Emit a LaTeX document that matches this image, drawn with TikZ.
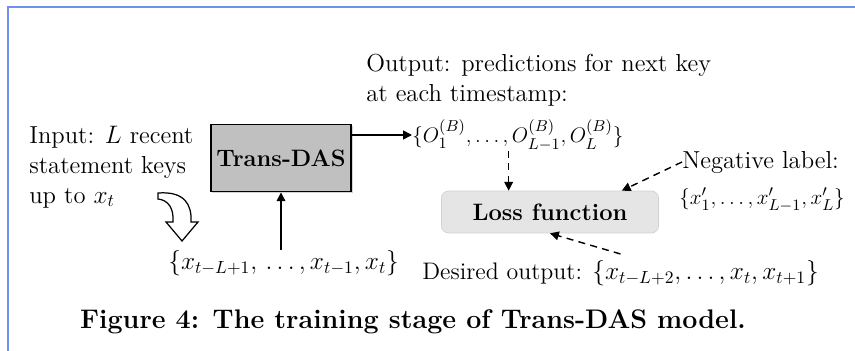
\documentclass[tikz,border=0pt]{standalone}
\usepackage{amsmath}
\usetikzlibrary{arrows.meta,positioning,calc,shadows}
\definecolor{FrameBlue}{RGB}{112,146,234}
\definecolor{BoxGray}{RGB}{192,192,192}
\definecolor{LossGray}{RGB}{229,229,229}
\definecolor{LossEdge}{RGB}{210,210,210}

\begin{document}
\begin{tikzpicture}[x=0.02cm, y=-0.02cm,
  model/.style={draw, line width=1.1pt, fill=BoxGray, minimum width=2.72cm,
                minimum height=1.34cm, font=\fontsize{13.5}{16}\selectfont\bfseries,
                drop shadow={shadow xshift=1pt, shadow yshift=-1pt, opacity=0.35}},
  lossbox/.style={draw=LossEdge, fill=LossGray, rounded corners=4pt,
                  minimum width=4.34cm, minimum height=0.84cm,
                  font=\fontsize{13.5}{16}\selectfont\bfseries},
  txt/.style={font=\fontsize{14}{17}\selectfont, align=left, inner sep=0pt},
  settxt/.style={font=\fontsize{13}{17}\selectfont, inner sep=0pt},
  msg/.style={-{Triangle[length=5pt, width=5pt]}, line width=0.9pt},
  dmsg/.style={-{Triangle[length=5pt, width=5pt]}, line width=0.8pt, dash pattern=on 4pt off 3pt}
]
\useasboundingbox (0,0) rectangle (855,351);

% frame of the page around the figure
\draw[FrameBlue, line width=1.1pt] (8,351) -- (8,7) -- (855,7);

% Trans-DAS model and its input
\node[model] (trans) at (281,158) {Trans-DAS};
\node[txt, anchor=west] (input) at (29,167)
  {Input: $L$ recent\\statement keys\\up to $x_t$};
\node[txt, anchor=west] (xset) at (168,263)
  {$\{x_{t-L+1},\,\dots,x_{t-1},x_t\}$};

% hollow curved arrow from input text to the key set
\draw[line width=0.7pt, fill=white] (158,193) .. controls (185,191) and (192,205) .. (191,222)
  -- (198,222) -- (182,241) -- (166,222) -- (173,222)
  .. controls (174,208) and (168,200) .. (158,199) -- cycle;

\draw[msg] (trans.south |- xset.north) -- (trans.south);

% predictions
\node[txt, anchor=west] (outtxt) at (366,80)
  {Output: predictions for next key\\at each timestamp:};
\node[settxt, anchor=west] (oset) at (412,135)
  {$\{O_1^{(B)},\dots,O_{L-1}^{(B)},O_L^{(B)}\}$};
\draw[msg] (trans.east |- oset.west) -- (oset.west);

% loss
\node[lossbox] (loss) at (550,212) {Loss function};
\coordinate (lossin) at ($(loss.north west)!0.31!(loss.north east)$);
\draw[dmsg] (oset.south -| lossin) -- (lossin);

% negative label
\node[txt, anchor=west] (neglabel) at (682,162) {Negative label:};
\node[settxt, anchor=west] (negset) at (679,200)
  {$\{x'_1,\dots,x'_{L-1},x'_L\}$};
\draw[dmsg] (neglabel.west) -- ($(loss.north west)!0.83!(loss.north east)$);

% desired output
\node[txt, anchor=west, font=\fontsize{13.6}{17}\selectfont] (desired) at (422,273)
  {Desired output: $\{x_{t-L+2},\dots,x_t,x_{t+1}\}$};
\draw[dmsg] ($(desired.north)+(0,-6)$) -- (loss.south);

% caption
\node[font=\fontsize{15.3}{18}\selectfont\bfseries] (caption) at (413,322)
  {Figure 4: The training stage of Trans-DAS model.};
\end{tikzpicture}
\end{document}
